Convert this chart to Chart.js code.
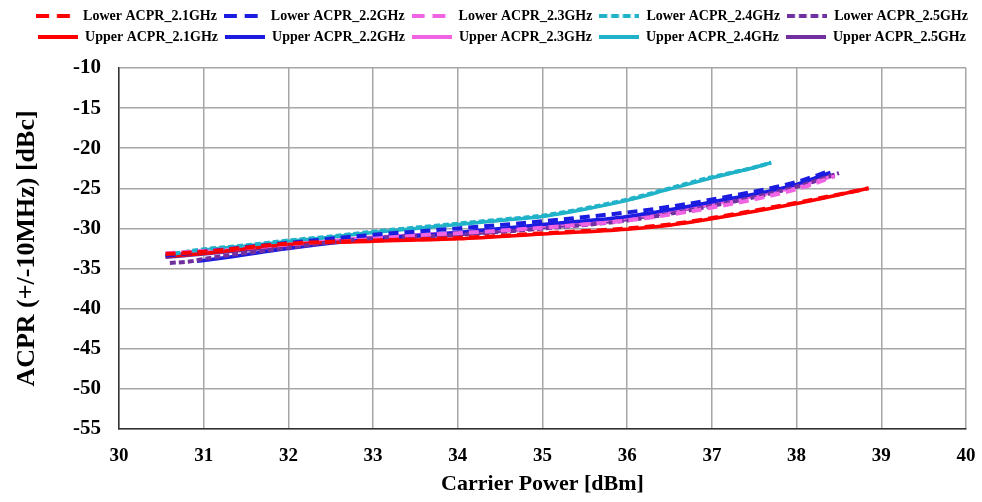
<!DOCTYPE html>
<html>
<head>
<meta charset="utf-8">
<script src="https://cdn.jsdelivr.net/npm/chart.js@4/dist/chart.umd.min.js"></script>
<style>
    html, body { margin: 0; padding: 0; background: #fff; }
    #wrap { width: 982px; height: 502px; position: relative; }
</style>
</head>
<body>
<div id="wrap"><canvas id="acpr-chart"></canvas></div>
<script>
// carrier power [dBm] and ACPR [dBc], one pair per frequency
const power21 = [30.55, 31, 32, 33, 34, 35, 36, 36.5, 37, 38, 38.85]
const lower21 = [-33.2, -32.9, -31.9, -31.5, -31.2, -30.6, -30.0, -29.5, -28.7, -26.8, -25.0]
const upper21 = [-33.5, -33.1, -32.0, -31.6, -31.3, -30.7, -30.1, -29.6, -28.8, -26.9, -25.0]

const powerLower22 = [30.55, 31, 32, 33, 34, 35, 36, 36.5, 37, 38, 38.4]
const lower22 = [-33.4, -32.9, -31.8, -30.8, -30.0, -29.1, -28.0, -27.3, -26.4, -24.2, -22.8]
const powerUpper22 = [30.92, 31, 32, 33, 34, 35, 36, 37, 38, 38.4]
const upper22 = [-34.1, -34.0, -32.5, -31.3, -30.5, -29.5, -28.5, -26.7, -24.5, -23.0]

const power23 = [30.55, 31, 32, 33, 34, 35, 36, 37, 38, 38.45]
const lower23 = [-33.1, -32.8, -32.0, -31.1, -30.6, -29.9, -29.0, -27.4, -25.1, -23.5]
const upper23 = [-33.3, -32.9, -32.0, -31.1, -30.5, -29.7, -28.7, -27.0, -24.8, -23.4]

const power24 = [30.55, 31, 31.5, 32, 32.5, 33, 33.5, 34, 34.5, 35, 35.5, 36, 36.5, 37, 37.5, 37.7]
const lower24 = [-33.3, -32.6, -32.1, -31.5, -31.0, -30.4, -29.9, -29.4, -28.9, -28.4, -27.5, -26.4, -25.0, -23.6, -22.4, -21.8]
const upper24 = [-33.5, -32.7, -32.2, -31.6, -31.1, -30.5, -30.0, -29.5, -29.0, -28.5, -27.6, -26.5, -25.1, -23.7, -22.4, -21.8]

const powerLower25 = [30.6, 30.85, 31, 32, 33, 34, 35, 36, 37, 38, 38.5]
const lower25 = [-34.3, -34.1, -33.8, -32.4, -31.2, -30.8, -30.0, -29.0, -27.2, -24.8, -23.1]
const power25 = [30.55, 31, 32, 33, 34, 35, 36, 37, 38, 38.45]
const upper25 = [-33.6, -33.2, -32.2, -31.3, -30.8, -29.9, -28.9, -27.0, -24.6, -23.3]

const serif = '"Liberation Serif", "Times New Roman", serif'

const pts = (xs, ys) => xs.map((x, i) => ({x: x, y: ys[i]}))

// small canvas used as the legend sample, so the dash pattern shows there too
const legendSample = (color, dash, width) => {
    const c = document.createElement('canvas')
    c.width = 40
    c.height = 6
    const ctx = c.getContext('2d')
    ctx.strokeStyle = color
    ctx.lineWidth = width
    ctx.setLineDash(dash)
    ctx.beginPath()
    ctx.moveTo(0, 3)
    ctx.lineTo(40, 3)
    ctx.stroke()
    return c
}

const series = (label, xs, ys, color, dash) => ({
    label: label,
    data: pts(xs, ys),
    borderColor: color,
    backgroundColor: color,
    borderWidth: dash ? 4 : 3.5,
    borderDash: dash || [],
    pointRadius: 0,
    pointHoverRadius: 0,
    pointStyle: dash ? legendSample(color, dash.map(d => d * 1.3), 4) : legendSample(color, [], 4),
    cubicInterpolationMode: 'monotone',
    fill: false
})

const longDash = [10, 6],
    shortDash = [6, 3]

// extra room under the legend and a small nudge to the right
const legendGap = {
    id: 'legendGap',
    beforeInit(chart) {
        const fit = chart.legend.fit
        chart.legend.fit = function() {
            fit.bind(chart.legend)()
            this.height += 14
        }
    },
    afterLayout(chart) {
        chart.legend.left += 13
        chart.legend.right += 13
    }
}

let chart = new Chart(document.getElementById('acpr-chart'), {
    type: 'line',
    plugins: [legendGap],
    data: {
        datasets: [
            series('Lower ACPR_2.1GHz', power21, lower21, '#FF0000', longDash),
            series('Lower ACPR_2.2GHz', powerLower22, lower22, '#1C1CE0', longDash),
            series('Lower ACPR_2.3GHz', power23, lower23, '#F064E4', longDash),
            series('Lower ACPR_2.4GHz', power24, lower24, '#1FB2C8', shortDash),
            series('Lower ACPR_2.5GHz', powerLower25, lower25, '#7030A0', shortDash),
            series('Upper ACPR_2.1GHz', power21, upper21, '#FF0000'),
            series('Upper ACPR_2.2GHz', powerUpper22, upper22, '#1C1CE0'),
            series('Upper ACPR_2.3GHz', power23, upper23, '#F064E4'),
            series('Upper ACPR_2.4GHz', power24, upper24, '#1FB2C8'),
            series('Upper ACPR_2.5GHz', power25, upper25, '#7030A0')
        ]
    },
    options: {
        responsive: true,
        maintainAspectRatio: false,
        animation: false,
        layout: {
            padding: {top: 2, right: 16, bottom: 4, left: 12}
        },
        plugins: {
            tooltip: {enabled: false},
            legend: {
                position: 'top',
                labels: {
                    usePointStyle: true,
                    pointStyleWidth: 40,
                    padding: 7,
                    color: '#000',
                    font: {family: serif, size: 14, weight: 'bold'}
                }
            }
        },
        scales: {
            x: {
                type: 'linear',
                min: 30,
                max: 40,
                ticks: {
                    stepSize: 1,
                    color: '#000',
                    padding: 16,
                    font: {family: serif, size: 19, weight: 'bold'}
                },
                grid: {color: '#A6A6A6', lineWidth: 1.5, drawTicks: false},
                border: {color: '#333', width: 1.5},
                title: {
                    display: true,
                    text: 'Carrier Power [dBm]',
                    color: '#000',
                    padding: {top: 6, bottom: 0},
                    font: {family: serif, size: 22, weight: 'bold'}
                },
                afterFit: scale => {
                    scale.height = 69
                    scale.paddingRight = 0
                }
            },
            y: {
                min: -55,
                max: -10,
                ticks: {
                    stepSize: 5,
                    color: '#000',
                    padding: 18,
                    font: {family: serif, size: 21, weight: 'bold'}
                },
                grid: {color: '#A6A6A6', lineWidth: 1.5, drawTicks: false},
                border: {color: '#333', width: 1.5},
                title: {
                    display: true,
                    text: 'ACPR (+/-10MHz) [dBc]',
                    color: '#000',
                    padding: {top: 0, bottom: 8},
                    font: {family: serif, size: 26, weight: 'bold'}
                },
                afterFit: scale => { scale.width = 107 }
            }
        }
    }
})
</script>
</body>
</html>
